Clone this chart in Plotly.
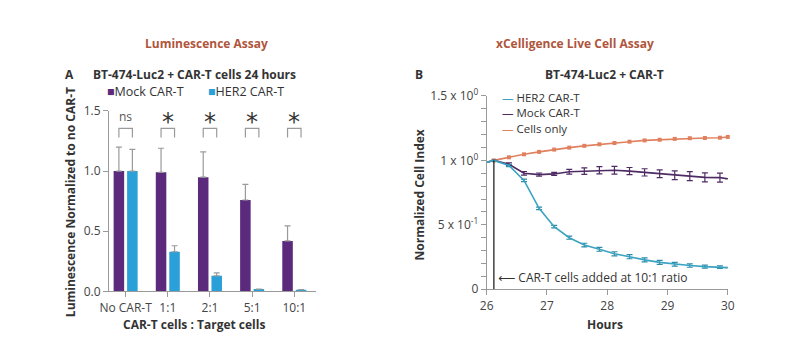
import plotly.graph_objects as go

# ---------------- Panel A data ----------------
categories = ["No CAR-T", "1:1", "2:1", "5:1", "10:1"]
mock_lum = [1.00, 0.99, 0.95, 0.76, 0.42]
mock_lum_err = [0.20, 0.20, 0.21, 0.13, 0.125]
her2_lum = [1.00, 0.33, 0.13, 0.02, 0.015]
her2_lum_err = [0.18, 0.05, 0.025, 0.0, 0.0]
significance = ["ns", "*", "*", "*", "*"]

# ---------------- Panel B data ----------------
hours = [26.0, 26.12, 26.37, 26.62, 26.87, 27.12, 27.37, 27.62, 27.87, 28.12,
         28.37, 28.62, 28.87, 29.12, 29.37, 29.62, 29.87, 30.0]
her2_ci = [0.985, 1.0, 0.96, 0.845, 0.628, 0.486, 0.400, 0.343, 0.310, 0.275,
           0.253, 0.228, 0.209, 0.194, 0.184, 0.176, 0.172, 0.168]
her2_ci_err = [0, 0, 0.008, 0.010, 0.010, 0.010, 0.012, 0.014, 0.015, 0.016,
               0.016, 0.016, 0.016, 0.015, 0.013, 0.012, 0.010, 0]
mock_ci = [0.985, 1.0, 0.97, 0.900, 0.890, 0.895, 0.912, 0.917, 0.924, 0.924,
           0.917, 0.907, 0.897, 0.885, 0.878, 0.868, 0.866, 0.858]
mock_ci_err = [0, 0, 0.010, 0.014, 0.012, 0.012, 0.018, 0.025, 0.028, 0.030,
               0.028, 0.028, 0.030, 0.034, 0.035, 0.035, 0.035, 0]
cells_hours = [26.12, 26.37, 26.62, 26.87, 27.12, 27.37, 27.62, 27.87, 28.12,
               28.37, 28.62, 28.87, 29.12, 29.37, 29.62, 29.87, 30.0]
cells_ci = [1.0, 1.024, 1.047, 1.066, 1.084, 1.099, 1.113, 1.125, 1.135,
            1.145, 1.155, 1.160, 1.167, 1.172, 1.174, 1.176, 1.182]
cart_added_hour = 26.12

# ---------------- Styles ----------------
FONT = "Open Sans"
C_MOCK_BAR = "#5b2a7d"
C_HER2_BAR = "#2aa0d8"
C_MOCK_LINE = "#4e2b63"
C_HER2_LINE = "#3aa3c2"
C_CELLS = "#e0805f"
C_TITLE = "#b0553c"
C_AXIS = "#9a9a9a"
C_ERR = "#9a9a9a"
C_TEXT = "#333333"

fig = go.Figure()

xpos = list(range(len(categories)))
fig.add_trace(go.Bar(
    x=xpos, y=mock_lum, name="Mock CAR-T", marker_color=C_MOCK_BAR,
    marker_line_width=0,
    error_y=dict(type="data", array=mock_lum_err, arrayminus=[0] * 5,
                 color=C_ERR, thickness=1.2, width=3),
    xaxis="x", yaxis="y", showlegend=False, cliponaxis=False))
fig.add_trace(go.Bar(
    x=xpos, y=her2_lum, name="HER2 CAR-T", marker_color=C_HER2_BAR,
    marker_line_width=0,
    error_y=dict(type="data", array=her2_lum_err, arrayminus=[0] * 5,
                 color=C_ERR, thickness=1.2, width=3),
    xaxis="x", yaxis="y", showlegend=False, cliponaxis=False))

# Panel B traces
fig.add_trace(go.Scatter(
    x=cells_hours, y=cells_ci, mode="lines+markers", name="Cells only",
    line=dict(color=C_CELLS, width=1.6),
    marker=dict(symbol="square", size=4, color=C_CELLS),
    xaxis="x2", yaxis="y2", showlegend=False, cliponaxis=False))
fig.add_trace(go.Scatter(
    x=hours, y=mock_ci, mode="lines", name="Mock CAR-T",
    line=dict(color=C_MOCK_LINE, width=1.6),
    error_y=dict(type="data", array=mock_ci_err, color=C_MOCK_LINE,
                 thickness=1.2, width=3),
    xaxis="x2", yaxis="y2", showlegend=False, cliponaxis=False))
fig.add_trace(go.Scatter(
    x=hours, y=her2_ci, mode="lines", name="HER2 CAR-T",
    line=dict(color=C_HER2_LINE, width=1.6),
    error_y=dict(type="data", array=her2_ci_err, color="#2f8ca8",
                 thickness=1.2, width=3),
    xaxis="x2", yaxis="y2", showlegend=False, cliponaxis=False))

# Significance brackets (panel A)
half = 0.16
b_low, b_high, t_y = 1.28, 1.355, 1.455
shapes = []
annotations = []
for i, s in enumerate(significance):
    x0, x1 = i - half, i + half
    shapes.append(dict(type="path", xref="x", yref="y",
                       path=f"M {x0},{b_low} L {x0},{b_high} L {x1},{b_high} L {x1},{b_low}",
                       line=dict(color=C_AXIS, width=1.2)))
    if s == "ns":
        annotations.append(dict(x=i, y=t_y, xref="x", yref="y", text="ns",
                                showarrow=False, font=dict(family=FONT, size=12, color="#555555")))
    else:
        annotations.append(dict(x=i, y=t_y, xref="x", yref="y", text="*",
                                showarrow=False, yshift=-6,
                                font=dict(family="DejaVu Sans", size=24, color=C_TEXT)))

# CAR-T added vertical line (panel B)
shapes.append(dict(type="line", xref="x2", yref="y2", x0=cart_added_hour, x1=cart_added_hour,
                   y0=0, y1=1.0, line=dict(color="#111111", width=1.2)))
annotations.append(dict(x=cart_added_hour + 0.03, y=0.09, xref="x2", yref="y2",
                        text="<span style='font-family:DejaVu Sans'>\u27F5</span> CAR-T cells added at 10:1 ratio",
                        showarrow=False, xanchor="left",
                        font=dict(family=FONT, size=12, color=C_TEXT)))


def ptxt(x, y, text, size=12, color=C_TEXT, bold=False, xanchor="center", angle=0):
    t = f"<b>{text}</b>" if bold else text
    annotations.append(dict(x=x / 808, y=1 - y / 344, xref="paper", yref="paper",
                            text=t, showarrow=False, xanchor=xanchor, yanchor="middle",
                            textangle=angle, font=dict(family=FONT, size=size, color=color)))


# Headers
ptxt(201, 35, "Luminescence Assay", 12, C_TITLE, True)
ptxt(577, 35, "xCelligence Live Cell Assay", 12, C_TITLE, True)
ptxt(62, 68, "A", 12, C_TEXT, True)
ptxt(189, 68, "BT-474-Luc2 + CAR-T cells 24 hours", 12, C_TEXT, True)
ptxt(418, 68, "B", 12, C_TEXT, True)
ptxt(608, 68, "BT-474-Luc2 + CAR-T", 12, C_TEXT, True)

# Legend A (square + label)
ptxt(98, 86, f"<span style='color:{C_MOCK_BAR}'>\u25A0</span>Mock CAR-T", 12.5, C_TEXT, False, "left")
ptxt(201, 86, f"<span style='color:{C_HER2_BAR}'>\u25A0</span>HER2 CAR-T", 12.5, C_TEXT, False, "left")

# Legend B (line + label)
ptxt(501, 92, f"<span style='color:{C_HER2_LINE}'>\u2014</span> HER2 CAR-T", 11.5, C_TEXT, False, "left")
ptxt(501, 108.5, f"<span style='color:{C_MOCK_LINE}'>\u2014</span> Mock CAR-T", 11.5, C_TEXT, False, "left")
ptxt(501, 125, f"<span style='color:{C_CELLS}'>\u2014</span> Cells only", 11.5, C_TEXT, False, "left")

# Axis titles
ptxt(63, 203, "Luminescence Normalized to no CAR-T", 12, C_TEXT, True, "center", -90)
ptxt(189, 331.5, "CAR-T cells : Target cells", 12, C_TEXT, True)
ptxt(419, 195, "Normalized Cell Index", 12, C_TEXT, True, "center", -90)
ptxt(608, 332, "Hours", 12, C_TEXT, True)

axis_common = dict(showgrid=False, zeroline=False, showline=True, linecolor=C_AXIS,
                   linewidth=1, ticks="outside", tickcolor=C_AXIS, ticklen=5,
                   tickfont=dict(family=FONT, size=12, color="#444444"))

fig.update_layout(
    width=808, height=344, margin=dict(l=0, r=0, t=0, b=0),
    paper_bgcolor="white", plot_bgcolor="white",
    barmode="group", bargap=0.36, bargroupgap=0.22,
    showlegend=False,
    xaxis=dict(domain=[102 / 808, 313 / 808], range=[-0.395, 4.51],
               tickvals=xpos, ticktext=categories, anchor="y", **axis_common),
    yaxis=dict(domain=[1 - 297 / 344, 1 - 106.5 / 344], range=[0, 1.5],
               tickvals=[0, 0.5, 1.0, 1.5], ticktext=["0.0", "0.5", "1.0", "1.5"],
               anchor="x", **axis_common),
    xaxis2=dict(domain=[487.3 / 808, 733.3 / 808], range=[26, 30], dtick=1,
                anchor="y2", **axis_common),
    yaxis2=dict(domain=[1 - 294.7 / 344, 1 - 90.7 / 344], range=[0, 1.5],
                tickvals=[0, 0.5, 1.0, 1.5],
                ticktext=["0", "5 x 10<sup>-1</sup>", "1 x 10<sup>0</sup>", "1.5 x 10<sup>0</sup>"],
                minor=dict(dtick=0.1, ticks="outside", ticklen=5, tickcolor=C_AXIS),
                anchor="x2", **axis_common),
    shapes=shapes, annotations=annotations,
)

fig.write_html("out.html")
